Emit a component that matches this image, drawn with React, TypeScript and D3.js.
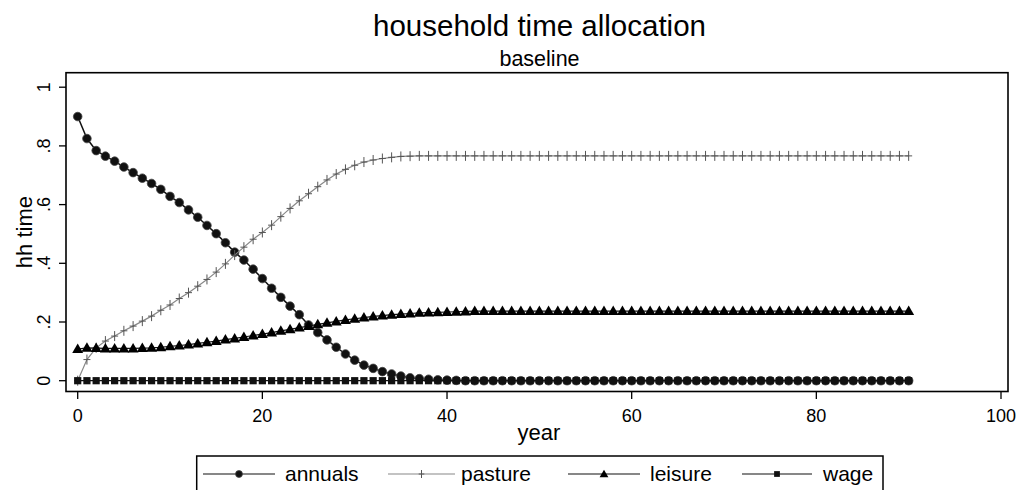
import React from "react";
import * as d3 from "d3";

const years = [
  0, 1, 2, 3, 4, 5, 6, 7, 8, 9, 10, 11, 12, 13, 14, 15, 16, 17, 18, 19, 20,
  21, 22, 23, 24, 25, 26, 27, 28, 29, 30, 31, 32, 33, 34, 35, 36, 37, 38, 39, 40,
  41, 42, 43, 44, 45, 46, 47, 48, 49, 50, 51, 52, 53, 54, 55, 56, 57, 58, 59, 60,
  61, 62, 63, 64, 65, 66, 67, 68, 69, 70, 71, 72, 73, 74, 75, 76, 77, 78, 79, 80,
  81, 82, 83, 84, 85, 86, 87, 88, 89, 90,
];

const annuals = [
  0.9, 0.825, 0.784, 0.765, 0.748, 0.728, 0.709, 0.69, 0.672, 0.652, 0.628,
  0.607, 0.582, 0.557, 0.529, 0.501, 0.47, 0.438, 0.411, 0.38, 0.348,
  0.315, 0.284, 0.254, 0.225, 0.19, 0.164, 0.139, 0.114, 0.091, 0.07,
  0.053, 0.042, 0.031, 0.023, 0.016, 0.01, 0.007, 0.005, 0.003, 0.002,
  0.001, 0, 0, 0, 0, 0, 0, 0, 0, 0,
  0, 0, 0, 0, 0, 0, 0, 0, 0, 0,
  0, 0, 0, 0, 0, 0, 0, 0, 0, 0,
  0, 0, 0, 0, 0, 0, 0, 0, 0, 0,
  0, 0, 0, 0, 0, 0, 0, 0, 0, 0,
];

const pasture = [
  0.0, 0.072, 0.112, 0.135, 0.152, 0.17, 0.186, 0.203, 0.22, 0.24, 0.258,
  0.28, 0.3, 0.322, 0.345, 0.37, 0.398, 0.428, 0.455, 0.482, 0.505,
  0.53, 0.559, 0.587, 0.613, 0.637, 0.661, 0.684, 0.704, 0.72, 0.734,
  0.745, 0.752, 0.757, 0.761, 0.764, 0.765, 0.766, 0.766, 0.766, 0.766,
  0.766, 0.766, 0.766, 0.766, 0.766, 0.766, 0.766, 0.766, 0.766, 0.766,
  0.766, 0.766, 0.766, 0.766, 0.766, 0.766, 0.766, 0.766, 0.766, 0.766,
  0.766, 0.766, 0.766, 0.766, 0.766, 0.766, 0.766, 0.766, 0.766, 0.766,
  0.766, 0.766, 0.766, 0.766, 0.766, 0.766, 0.766, 0.766, 0.766, 0.766,
  0.766, 0.766, 0.766, 0.766, 0.766, 0.766, 0.766, 0.766, 0.766, 0.766,
];

const leisure = [
  0.108, 0.112, 0.111, 0.11, 0.11, 0.11, 0.11, 0.111, 0.112, 0.114, 0.117,
  0.12, 0.123, 0.127, 0.131, 0.135, 0.14, 0.144, 0.149, 0.154, 0.159,
  0.164, 0.17, 0.175, 0.181, 0.186, 0.192, 0.197, 0.202, 0.207, 0.211,
  0.215, 0.219, 0.222, 0.225, 0.227, 0.229, 0.231, 0.232, 0.233, 0.234,
  0.235, 0.236, 0.237, 0.237, 0.237, 0.237, 0.237, 0.237, 0.237, 0.237,
  0.237, 0.237, 0.237, 0.237, 0.237, 0.237, 0.237, 0.237, 0.237, 0.237,
  0.237, 0.237, 0.237, 0.237, 0.237, 0.237, 0.237, 0.237, 0.237, 0.237,
  0.237, 0.237, 0.237, 0.237, 0.237, 0.237, 0.237, 0.237, 0.237, 0.237,
  0.237, 0.237, 0.237, 0.237, 0.237, 0.237, 0.237, 0.237, 0.237, 0.237,
];

const wage = [
  0, 0, 0, 0, 0, 0, 0, 0, 0, 0, 0,
  0, 0, 0, 0, 0, 0, 0, 0, 0, 0,
  0, 0, 0, 0, 0, 0, 0, 0, 0, 0,
  0, 0, 0, 0, 0, 0, 0, 0, 0, 0,
  0, 0, 0, 0, 0, 0, 0, 0, 0, 0,
  0, 0, 0, 0, 0, 0, 0, 0, 0, 0,
  0, 0, 0, 0, 0, 0, 0, 0, 0, 0,
  0, 0, 0, 0, 0, 0, 0, 0, 0, 0,
  0, 0, 0, 0, 0, 0, 0, 0, 0, 0,
];

const seriesNames = ["annuals", "pasture", "leisure", "wage"];
const xTicks = [0, 20, 40, 60, 80, 100];
const yTicks = [0, 0.2, 0.4, 0.6, 0.8, 1];
const yTickLabels = ["0", ".2", ".4", ".6", ".8", "1"];

const W = 1023;
const H = 490;
const FONT = "'Liberation Sans', Arial, Helvetica, sans-serif";

const plot = { left: 66, top: 72.7, right: 1008, bottom: 391.5 };

const x = d3.scaleLinear().domain([0, 100]).range([77.7, 1001]);
const y = d3.scaleLinear().domain([0, 1]).range([380.7, 87.2]);

type Kind = "circle" | "plus" | "triangle" | "square";

function Marker({ kind, cx, cy, scale = 1 }: { kind: Kind; cx: number; cy: number; scale?: number }) {
  if (kind === "circle") {
    return <circle cx={cx} cy={cy} r={4.3 * scale} fill="#111" stroke="#444" strokeWidth={0.8} />;
  }
  if (kind === "plus") {
    const h = 5 * scale;
    const w = 3.5 * scale;
    return (
      <path
        d={`M${cx - w},${cy}h${2 * w}M${cx},${cy - h}v${2 * h}`}
        stroke="#555"
        strokeWidth={1}
        fill="none"
      />
    );
  }
  if (kind === "triangle") {
    const p = d3.symbol().type(d3.symbolTriangle).size(52 * scale * scale)();
    return <path d={p || ""} transform={`translate(${cx},${cy + 0.8})`} fill="#000" />;
  }
  const p = d3.symbol().type(d3.symbolSquare).size(52 * scale * scale)();
  return <path d={p || ""} transform={`translate(${cx},${cy})`} fill="#111" />;
}

const seriesDefs: { name: string; values: number[]; kind: Kind; color: string; width: number }[] = [
  { name: seriesNames[0], values: annuals, kind: "circle", color: "#111", width: 1.5 },
  { name: seriesNames[1], values: pasture, kind: "plus", color: "#888", width: 1.2 },
  { name: seriesNames[2], values: leisure, kind: "triangle", color: "#111", width: 1.2 },
  { name: seriesNames[3], values: wage, kind: "square", color: "#111", width: 1.2 },
];

export default function App() {
  const line = d3
    .line<number>()
    .x((_, i) => x(years[i]))
    .y((v) => y(v));

  const legendItems: { name: string; kind: Kind; color: string; x1: number; x2: number; tx: number }[] = [
    { name: seriesNames[0], kind: "circle", color: "#111", x1: 203, x2: 275, tx: 285 },
    { name: seriesNames[1], kind: "plus", color: "#888", x1: 388, x2: 455, tx: 461 },
    { name: seriesNames[2], kind: "triangle", color: "#111", x1: 568, x2: 640, tx: 650 },
    { name: seriesNames[3], kind: "square", color: "#111", x1: 742, x2: 812, tx: 823 },
  ];

  return (
    <svg
      width={W}
      height={H}
      style={{ position: "absolute", left: 0, top: 0, background: "#fff" }}
      fontFamily={FONT}
    >
      <rect x={0} y={0} width={W} height={H} fill="#fff" />
      <text x={539.5} y={36} textAnchor="middle" fontSize={29.5} fill="#000">
        household time allocation
      </text>
      <text x={539.5} y={66} textAnchor="middle" fontSize={21.5} fill="#000">
        baseline
      </text>

      {/* plot frame */}
      <rect
        x={plot.left}
        y={plot.top}
        width={plot.right - plot.left}
        height={plot.bottom - plot.top}
        fill="none"
        stroke="#000"
        strokeWidth={1.6}
      />

      {/* y axis */}
      {yTicks.map((t, i) => (
        <g key={"y" + i}>
          <line x1={plot.left} x2={plot.left - 7} y1={y(t)} y2={y(t)} stroke="#000" strokeWidth={1.3} />
          <text
            transform={`translate(50,${y(t)}) rotate(-90)`}
            textAnchor="middle"
            fontSize={18}
            fill="#000"
          >
            {yTickLabels[i]}
          </text>
        </g>
      ))}
      <text
        transform={`translate(32,${(plot.top + plot.bottom) / 2}) rotate(-90)`}
        textAnchor="middle"
        fontSize={22}
        fill="#000"
      >
        hh time
      </text>

      {/* x axis */}
      {xTicks.map((t, i) => (
        <g key={"x" + i}>
          <line x1={x(t)} x2={x(t)} y1={plot.bottom} y2={plot.bottom + 7.5} stroke="#000" strokeWidth={1.3} />
          <text x={x(t)} y={421.5} textAnchor="middle" fontSize={18} fill="#000">
            {t}
          </text>
        </g>
      ))}
      <text x={539} y={440} textAnchor="middle" fontSize={22} fill="#000">
        year
      </text>

      {/* series */}
      {seriesDefs.map((s) => (
        <g key={s.name}>
          <path d={line(s.values) || ""} fill="none" stroke={s.color} strokeWidth={s.width} />
          {s.values.map((v, i) => (
            <Marker key={i} kind={s.kind} cx={x(years[i])} cy={y(v)} />
          ))}
        </g>
      ))}

      {/* legend */}
      <rect x={196.7} y={456} width={883 - 196.7} height={40} fill="#fff" stroke="#000" strokeWidth={1.5} />
      {legendItems.map((it) => (
        <g key={it.name}>
          <line x1={it.x1} x2={it.x2} y1={474} y2={474} stroke={it.color} strokeWidth={1.2} />
          <Marker kind={it.kind} cx={(it.x1 + it.x2) / 2} cy={474} scale={0.8} />
          <text x={it.tx} y={481} fontSize={21} fill="#000">
            {it.name}
          </text>
        </g>
      ))}
    </svg>
  );
}
